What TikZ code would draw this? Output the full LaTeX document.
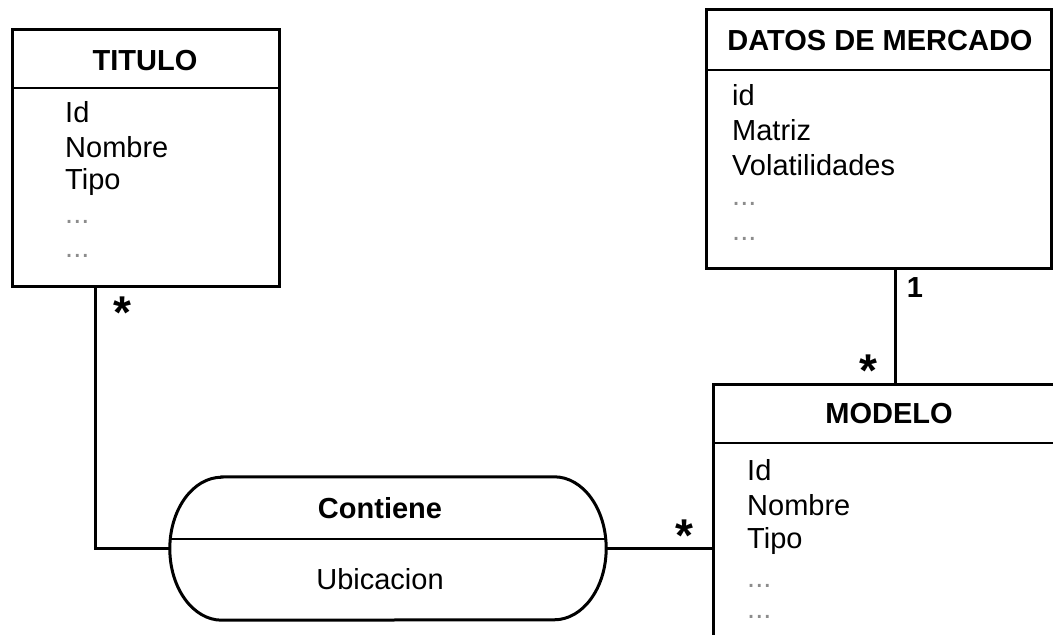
\documentclass[tikz,border=0pt]{standalone}
\usepackage{fontspec}
\setmainfont{Liberation Sans}
\begin{document}
\begin{tikzpicture}[x=1pt,y=-1pt,
  box/.style={draw=black, line width=3pt, rectangle, inner sep=0pt, anchor=north west},
  sep/.style={line width=1.8pt},
  link/.style={line width=3pt},
  head/.style={font=\fontsize{29}{29}\selectfont\bfseries, inner sep=0pt, anchor=base},
  attr/.style={font=\fontsize{29}{29}\selectfont, inner sep=0pt, anchor=base west},
  more/.style={attr, text=black!45},
  mult/.style={font=\fontsize{46}{46}\selectfont\bfseries, inner sep=0pt, anchor=north},
  card/.style={font=\fontsize{29}{29}\selectfont\bfseries, inner sep=0pt, anchor=north},
]
\clip (0,0) rectangle (1053,635);
\fill[white] (0,0) rectangle (1053,635);

% entity boxes
\node[box, minimum width=267pt, minimum height=257pt] (titulo) at (11,28) {};
\node[box, minimum width=345pt, minimum height=259pt] (datos) at (705,8) {};
\node[box, minimum width=354pt, minimum height=300pt] (modelo) at (712,383) {};

% relationship (stadium shape)
\node[inner sep=0pt, minimum width=436pt, minimum height=143pt] (contiene) at (388,548.5) {};
\draw[line width=3pt]
  ([xshift=52pt]contiene.north west) -- ([xshift=-52pt]contiene.north east)
  arc[start angle=90, end angle=-90, x radius=52pt, y radius=71.5pt]
  -- ([xshift=52pt]contiene.south west)
  arc[start angle=270, end angle=90, x radius=52pt, y radius=71.5pt] -- cycle;

% header separators
\draw[sep] (titulo.west |- 0,88) -- (titulo.east |- 0,88);
\draw[sep] (datos.west |- 0,70) -- (datos.east |- 0,70);
\draw[sep] (modelo.west |- 0,443) -- (modelo.east |- 0,443);
\draw[sep] ([yshift=9.5pt]contiene.west) -- ([yshift=9.5pt]contiene.east);

% TITULO
\node[head] (tTitle) at (145,70) {TITULO};
\node[attr] (tId) at (65,122) {Id};
\node[attr] (tNom) at (65,157) {Nombre};
\node[attr] (tTipo) at (65,189) {Tipo};
\node[more] (tM1) at (65,223) {...};
\node[more] (tM2) at (65,257) {...};

% DATOS DE MERCADO
\node[head] (dTitle) at (880,50) {DATOS DE MERCADO};
\node[attr] (dId) at (732,105) {id};
\node[attr] (dMat) at (732,140) {Matriz};
\node[attr] (dVol) at (732,175) {Volatilidades};
\node[more] (dM1) at (732,205) {...};
\node[more] (dM2) at (732,240) {...};

% MODELO
\node[head] (mTitle) at (889,423) {MODELO};
\node[attr] (mId) at (747,480) {Id};
\node[attr] (mNom) at (747,515) {Nombre};
\node[attr] (mTipo) at (747,548) {Tipo};
\node[more] (mM1) at (747,587) {...};
\node[more] (mM2) at (747,618) {...};

% Contiene
\node[head] (cTitle) at (380,518) {Contiene};
\node[attr, anchor=base] (cAttr) at (380,589) {Ubicacion};

% connectors
\draw[link] ([xshift=84pt]titulo.south west) |- (contiene.west);
\draw[link] (contiene.east) -- (contiene.east -| modelo.west);
\draw[link] ([xshift=190pt]datos.south west) coordinate (dm) -- (dm |- modelo.north);

% multiplicities
\node[mult] (s1) at (122,297) {*};
\node[mult] (s2) at (868,355) {*};
\node[mult] (s3) at (684,520) {*};
\node[card] (one) at (915,277) {1};
\end{tikzpicture}
\end{document}
